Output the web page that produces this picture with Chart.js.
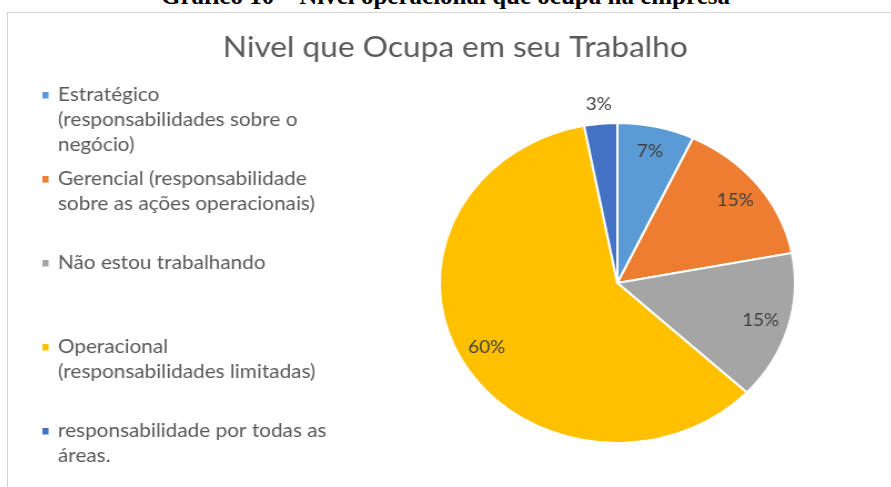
<!DOCTYPE html>
<html>
<head>
<meta charset="utf-8">
<script src="https://cdn.jsdelivr.net/npm/chart.js@4.4.1/dist/chart.umd.min.js"></script>
<style>
  html, body { margin: 0; padding: 0; background: #fff; overflow: hidden; }
  body { width: 891px; height: 487px; position: relative; }
  #caption {
    position: absolute; left: 0; top: -17px; width: 891px; text-align: center;
    font: bold 25px/25px "Liberation Serif", "Times New Roman", serif; color: #000;
    white-space: nowrap;
  }
  #frame {
    position: absolute; left: 7px; top: 12px; width: 900px; height: 500px;
    border-left: 1px solid #d4d4d4; border-top: 1px solid #d4d4d4; background: #fff;
  }
  #box {
    position: absolute; left: 8px; top: 13px; width: 795px; height: 474px;
    transform: scaleX(1.11); transform-origin: 0 0;
  }
</style>
</head>
<body>
<div id="caption">Gráfico 10 – Nível operacional que ocupa na empresa</div>
<div id="frame"></div>
<div id="box"><canvas id="pieChart"></canvas></div>
<script>
// Nivel que Ocupa em seu Trabalho
var titleText = 'Nivel que Ocupa em seu Trabalho';
var categories = [
    ['Estratégico', '(responsabilidades sobre o', 'negócio)'],
    ['Gerencial (responsabilidade', 'sobre as ações operacionais)'],
    ['Não estou trabalhando'],
    ['Operacional', '(responsabilidades limitadas)'],
    ['responsabilidade por todas as', 'áreas.']
];
var percentages = [7, 15, 15, 60, 3];
var colors = ['#5B9BD5', '#ED7D31', '#A5A5A5', '#FFC000', '#4472C4'];

var fontFamily = 'Lato, "Open Sans", sans-serif';

// draws the title, the multi-line legend and the percent labels
var excelLook = {
    id: 'excelLook',
    afterDraw: function (chart) {
        var ctx = chart.ctx;
        ctx.save();

        ctx.fillStyle = '#595959';
        ctx.font = '28.5px ' + fontFamily;
        ctx.textAlign = 'center';
        ctx.textBaseline = 'middle';
        ctx.fillText(titleText, 403, 35);

        ctx.font = '18.7px ' + fontFamily;
        ctx.textAlign = 'left';
        chart.data.labels.forEach(function (lines, i) {
            var y = 82 + i * 84;
            ctx.fillStyle = chart.data.datasets[0].backgroundColor[i];
            ctx.fillRect(31, y - 3, 5.5, 6.5);
            ctx.fillStyle = '#595959';
            lines.forEach(function (line, j) {
                ctx.fillText(line, 45, y + j * 25);
            });
        });

        var meta = chart.getDatasetMeta(0);
        ctx.font = '17px ' + fontFamily;
        ctx.textAlign = 'center';
        ctx.fillStyle = '#404040';
        meta.data.forEach(function (arc, i) {
            var value = chart.data.datasets[0].data[i];
            var mid = (arc.startAngle + arc.endAngle) / 2;
            var r = arc.outerRadius * (value < 5 ? 1.12 : 0.84);
            ctx.fillText(value + '%', arc.x + Math.cos(mid) * r, arc.y + Math.sin(mid) * r);
        });
        ctx.restore();
    }
};

var ctx = document.getElementById('pieChart').getContext('2d');
var pieChart = new Chart(ctx, {
    type: 'pie',
    data: {
        labels: categories,
        datasets: [{
            data: percentages,
            backgroundColor: colors,
            borderColor: '#ffffff',
            borderWidth: 2
        }]
    },
    options: {
        responsive: true,
        maintainAspectRatio: false,
        animation: false,
        layout: { padding: { left: 388, right: 85, top: 109, bottom: 43 } },
        plugins: {
            legend: { display: false },
            title: { display: false },
            tooltip: { enabled: false }
        }
    },
    plugins: [excelLook]
});
</script>
</body>
</html>
